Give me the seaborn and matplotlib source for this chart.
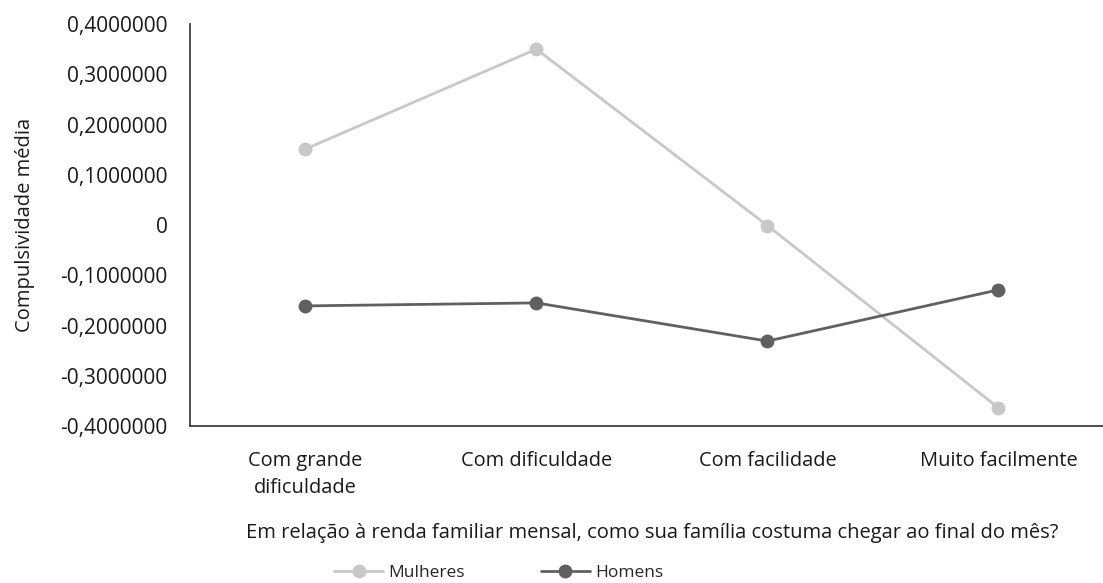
import matplotlib.pyplot as plt
import matplotlib.ticker as mticker
import seaborn as sns
import pandas as pd

categorias = ['Com grande\ndificuldade', 'Com dificuldade', 'Com facilidade', 'Muito facilmente']
mulheres = [0.151, 0.350, -0.001, -0.364]
homens = [-0.161, -0.155, -0.231, -0.129]
series = ['Mulheres', 'Homens']
cores = {'Mulheres': '#c8c8c8', 'Homens': '#606060'}

df = pd.DataFrame({
    'cat': categorias * 2,
    'valor': mulheres + homens,
    'grupo': [series[0]] * 4 + [series[1]] * 4,
})

sns.set_style('white')
plt.rcParams['font.family'] = ['Open Sans', 'DejaVu Sans']

fig = plt.figure(figsize=(11.03, 5.83), dpi=100)
ax = fig.add_axes([0.172, 0.2693, 0.838, 0.6895])

sns.lineplot(data=df, x='cat', y='valor', hue='grupo', palette=cores,
             marker='o', markersize=10, markeredgewidth=0, linewidth=2,
             ax=ax, legend=False)

ax.set_xlim(-0.5, 3.5)
ax.set_ylim(-0.4, 0.4)
ax.set_yticks([-0.4, -0.3, -0.2, -0.1, 0, 0.1, 0.2, 0.3, 0.4])

def fmt(v, pos):
    if abs(v) < 1e-9:
        return '0'
    return f'{v:.7f}'.replace('.', ',')

ax.yaxis.set_major_formatter(mticker.FuncFormatter(fmt))

for s in ['top', 'right']:
    ax.spines[s].set_visible(False)
for s in ['left', 'bottom']:
    ax.spines[s].set_color('#404040')
    ax.spines[s].set_linewidth(1.3)

ax.tick_params(axis='y', direction='in', length=7, width=1.2, color='#404040',
               labelsize=15, pad=16, labelcolor='#1a1a1a')
ax.tick_params(axis='x', length=0, labelsize=14.4, pad=18, labelcolor='#1a1a1a')
for t in ax.get_xticklabels():
    t.set_linespacing(1.5)

ax.set_ylabel('Compulsividade média', fontsize=14.5, color='#1a1a1a', labelpad=18)
ax.set_xlabel('Em relação à renda familiar mensal, como sua família costuma chegar ao final do mês?',
              fontsize=14.5, color='#1a1a1a', labelpad=18)

handles = [plt.Line2D([], [], color=cores[s], marker='o', markersize=10,
                      markeredgewidth=0, linewidth=2) for s in series]
fig.legend(handles, series, loc='center', bbox_to_anchor=(0.452, 0.017),
           ncol=2, frameon=False, fontsize=12.5, handlelength=2.8,
           columnspacing=4.4, handletextpad=0.3, borderpad=0)

fig.savefig('out.png', dpi=100)
